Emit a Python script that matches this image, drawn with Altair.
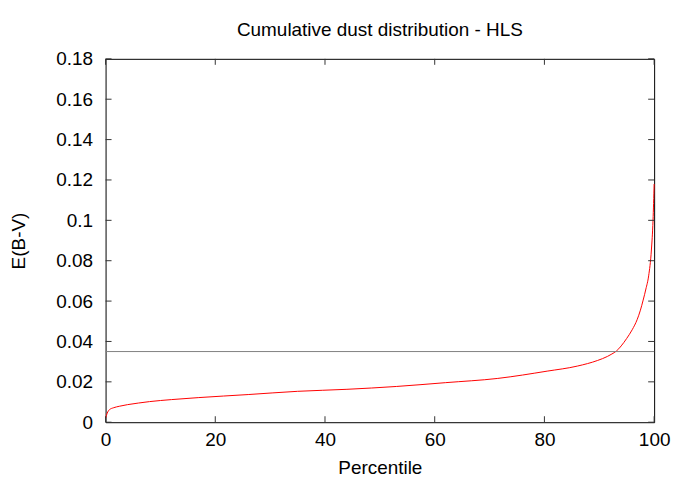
import altair as alt
import pandas as pd

# Data
pct = [0, 0.3, 0.7, 1.5, 2.5, 4, 6, 8, 12, 17, 26, 35, 44, 53, 62, 71.5,
       80.5, 86, 89.7, 91.5, 92.3, 93.1, 94, 95, 96, 96.9, 97.5, 98, 98.5, 99, 99.5, 99.8, 100]
ebv = [0.002, 0.0045, 0.0062, 0.0072, 0.0079, 0.0087, 0.0095, 0.0102, 0.0112, 0.0122,
       0.0137, 0.0153, 0.0163, 0.0177, 0.0196, 0.0217, 0.0253, 0.0278, 0.0306, 0.0326,
       0.0338, 0.0352, 0.0378, 0.0415, 0.0458, 0.0508, 0.0555, 0.0605, 0.066, 0.0725,
       0.0853, 0.100, 0.118]
threshold = [0.035]
x_ticks = [0, 20, 40, 60, 80, 100]
y_ticks = [0, 0.02, 0.04, 0.06, 0.08, 0.1, 0.12, 0.14, 0.16, 0.18]

W, H = 551, 365
TL = 6
FONT = "Liberation Sans"
FS = 19

curve_df = pd.DataFrame({"x": pct, "y": ebv})
thr_df = pd.DataFrame({"y": threshold})
xt_df = pd.DataFrame({"x": x_ticks})
yt_df = pd.DataFrame({"y": y_ticks})

xscale = alt.Scale(domain=[0, 100], nice=False, zero=False)
yscale = alt.Scale(domain=[0, 0.18], nice=False, zero=False)

xaxis = alt.Axis(values=x_ticks, format="d", domain=False, ticks=False, grid=False,
                 labelFlush=False, labelPadding=8, labelFontSize=FS, titleFontSize=FS,
                 titleFontWeight="normal", titlePadding=10, labelFont=FONT,
                 titleFont=FONT, labelColor="#000", titleColor="#000")
yaxis = alt.Axis(values=y_ticks, format="~g", domain=False, ticks=False, grid=False,
                 labelFlush=False, labelPadding=13, labelFontSize=FS, titleFontSize=FS,
                 titleFontWeight="normal", titlePadding=27, labelFont=FONT,
                 titleFont=FONT, labelColor="#000", titleColor="#000")

curve = alt.Chart(curve_df).mark_line(color="#ff0000", strokeWidth=1, interpolate="monotone").encode(
    x=alt.X("x:Q", scale=xscale, title="Percentile", axis=xaxis),
    y=alt.Y("y:Q", scale=yscale, title="E(B-V)", axis=yaxis),
)

thr = alt.Chart(thr_df).mark_rule(color="#808080", strokeWidth=1).encode(
    y=alt.Y("y:Q", scale=yscale, title="E(B-V)", axis=yaxis),
    x=alt.value(0), x2=alt.value(W),
)

tick_style = dict(color="#333333", strokeWidth=1)
left_t = alt.Chart(yt_df).mark_rule(**tick_style).encode(
    y=alt.Y("y:Q", scale=yscale, title="E(B-V)", axis=yaxis), x=alt.value(0), x2=alt.value(TL))
right_t = alt.Chart(yt_df).mark_rule(**tick_style).encode(
    y=alt.Y("y:Q", scale=yscale, title="E(B-V)", axis=yaxis), x=alt.value(W - TL), x2=alt.value(W))
bottom_t = alt.Chart(xt_df).mark_rule(**tick_style).encode(
    x=alt.X("x:Q", scale=xscale, title="Percentile", axis=xaxis), y=alt.value(H), y2=alt.value(H - TL))
top_t = alt.Chart(xt_df).mark_rule(**tick_style).encode(
    x=alt.X("x:Q", scale=xscale, title="Percentile", axis=xaxis), y=alt.value(0), y2=alt.value(TL))

chart = alt.layer(curve, thr, left_t, right_t, bottom_t, top_t).properties(
    width=W, height=H,
    autosize=alt.AutoSizeParams(type="none"),
    padding={"left": 98, "top": 50, "right": 30, "bottom": 60},
    title=alt.TitleParams("Cumulative dust distribution - HLS", font=FONT, fontSize=FS,
                          fontWeight="normal", color="#000", offset=10, anchor="middle"),
).configure(background="white").configure_view(stroke="#000000", strokeWidth=1)

chart.save("out.html", embed_options={"renderer": "svg", "actions": False})
